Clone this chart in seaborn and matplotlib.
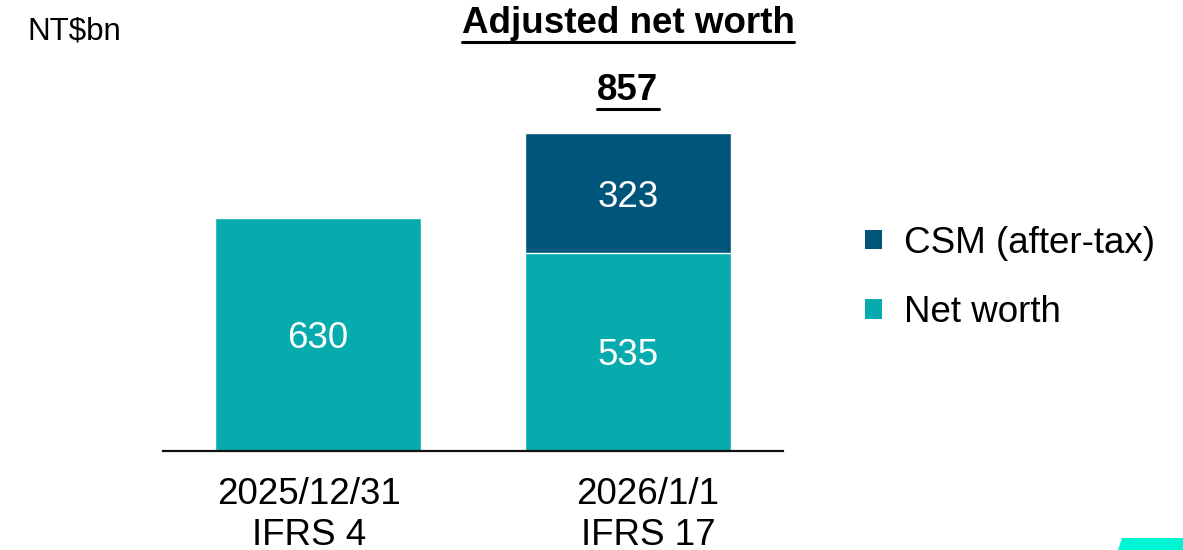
import matplotlib
matplotlib.use("Agg")
import matplotlib.pyplot as plt
import matplotlib.transforms as mtransforms
from matplotlib.patches import Patch, Polygon
from matplotlib.lines import Line2D
import numpy as np
import pandas as pd
import seaborn as sns

# data
dates = ["2025/12/31\nIFRS 4", "2026/1/1\nIFRS 17"]
net_worth = [630, 535]
csm_after_tax = [0, 323]
adjusted_total = 857

unit_label = r"NT\$bn"
title_text = "Adjusted net worth"
series_names = ["CSM (after-tax)", "Net worth"]

teal = "#06ACAD"
navy = "#00557A"

sns.set_theme(style="white")
plt.rcParams["font.family"] = ["Liberation Sans", "DejaVu Sans"]
plt.rcParams["text.color"] = "black"

df = pd.DataFrame({"date": dates, "net": net_worth, "csm": csm_after_tax})
df["total"] = df["net"] + df["csm"]
df.loc[df["csm"] == 0, "total"] = np.nan

W, H = 1183, 550
fig = plt.figure(figsize=(W / 100, H / 100), dpi=100)
ax = fig.add_axes([163 / W, (H - 451) / H, 620 / W, 451 / H])

# stacked bars: total (navy) underneath, net worth (teal) on top
sns.barplot(data=df, x="date", y="total", order=dates, color=navy,
            width=0.667, saturation=1, ax=ax)
sns.barplot(data=df, x="date", y="net", order=dates, color=teal,
            width=0.667, saturation=1, ax=ax)

ax.set_xlim(-0.5, 1.5)
ax.set_ylim(0, 1218)
ax.set_xlabel("")
ax.set_ylabel("")
ax.set_yticks([])
for s in ["top", "right", "left"]:
    ax.spines[s].set_visible(False)
ax.spines["bottom"].set_color("#111111")
ax.spines["bottom"].set_linewidth(1.6)
ax.tick_params(axis="x", length=0, pad=19, labelsize=26.5, labelcolor="black")

# nudge tick labels like the slide text boxes
offsets_px = [-9, 20]
for lab, dx in zip(ax.get_xticklabels(), offsets_px):
    lab.set_transform(lab.get_transform() +
                      mtransforms.ScaledTranslation(dx / 100, 0, fig.dpi_scale_trans))

# value labels
for i, (n, c) in enumerate(zip(net_worth, csm_after_tax)):
    ax.text(i, n / 2, str(n), ha="center", va="center_baseline",
            color="white", fontsize=26.5)
    if c > 0:
        ax.text(i, n + c / 2, str(c), ha="center", va="center_baseline",
                color="white", fontsize=26.5)

# total above the stacked bar
tot_txt = ax.annotate(str(adjusted_total), xy=(1, adjusted_total),
                      xytext=(0, 24), textcoords="offset points",
                      ha="center", va="baseline", fontsize=26.5,
                      fontweight="bold", color="black")

# title over the second bar
title = ax.annotate(title_text, xy=(1, 1 - 33 / H), xycoords=("data", "figure fraction"),
                    ha="center", va="baseline", fontsize=26.5,
                    fontweight="bold", color="black")

fig.text(27 / W, 1 - 39 / H, unit_label, ha="left", va="baseline",
         fontsize=22.5, color="black")

# underline the bold texts
fig.canvas.draw()
renderer = fig.canvas.get_renderer()
for t in [title, tot_txt]:
    bb = t.get_window_extent(renderer)
    y = bb.y0 - 1
    fig.add_artist(Line2D([bb.x0 / W, bb.x1 / W], [y / H, y / H],
                          transform=fig.transFigure, color="black", linewidth=2.2))

# legend
handles = [Patch(facecolor=navy, edgecolor="none"), Patch(facecolor=teal, edgecolor="none")]
fig.legend(handles, series_names, loc="center left",
           bbox_to_anchor=(865 / W, 1 - 278 / H), frameon=False,
           fontsize=26.5, handlelength=0.45, handleheight=0.45,
           handletextpad=0.6, labelspacing=0.94, borderpad=0, borderaxespad=0,
           labelcolor="black")

# corner accent
fig.add_artist(Polygon([[1122 / W, 1 - 538 / H], [1 + 0.01, 1 - 538 / H],
                        [1 + 0.01, -0.01], [1116 / W, -0.01]],
                       closed=True, transform=fig.transFigure,
                       facecolor="#00F5D3", edgecolor="none"))

fig.savefig("out.png", dpi=100)
